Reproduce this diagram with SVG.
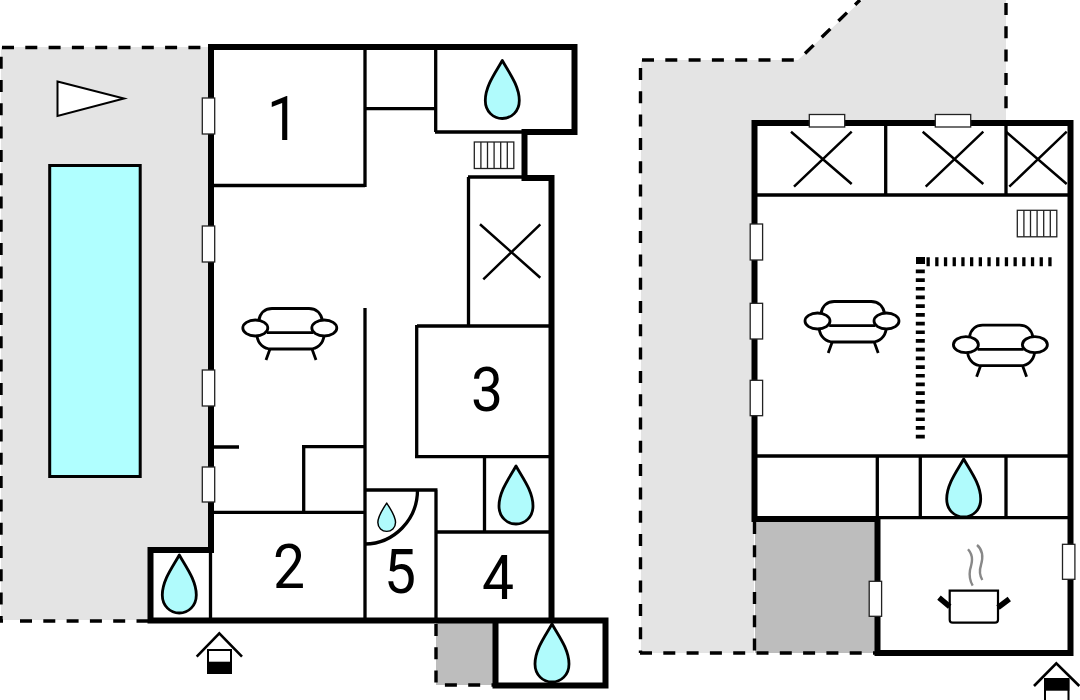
<svg xmlns="http://www.w3.org/2000/svg" width="1080" height="700" viewBox="0 0 1080 700">
<style>
.wall{fill:none;stroke:#000;stroke-width:6;stroke-linecap:square;stroke-linejoin:miter}
.thin{fill:none;stroke:#000;stroke-width:3.3}
.dash{fill:none;stroke:#000;stroke-width:3.4;stroke-dasharray:12 11.3}
.win{fill:#fff;stroke:#222;stroke-width:1.3}
.x{fill:none;stroke:#000;stroke-width:2.5}
.num{font-family:"Roboto","Liberation Sans",Arial,sans-serif;font-size:62px;fill:#000;text-anchor:middle}
.drop{fill:#b0fbfc;stroke:#000;stroke-width:2.8;stroke-linejoin:round}
.rad{fill:#fff;stroke:#222;stroke-width:1.3}
.sofa{fill:#fff;stroke:#000;stroke-width:2.8}
.ter{fill:#e4e4e4}
.cov{fill:#bdbdbd}
.steam{fill:none;stroke:#888;stroke-width:2.4}
</style>
<defs>
<path id="d" class="drop" d="M0 0C-6 11-17 25-17 40C-17 51-9 58 0 58C9 58 17 51 17 40C17 25 6 11 0 0Z"/>
<g id="sofa">
<path class="sofa" d="M258.7 321C260 312 266 308.5 272 308.5H309C315 308.5 321 312 322.5 321"/>
<path class="sofa" d="M257 336C258 344 264 349 271 349H310C317 349 323 344 324 336"/>
<path class="sofa" d="M267 332.7H313M270 349L266 360M312 349L316 360"/>
<ellipse class="sofa" cx="255.3" cy="328" rx="12.5" ry="8"/>
<ellipse class="sofa" cx="324.3" cy="328" rx="12.5" ry="8"/>
</g>
<g id="rad">
<rect class="rad" x="0" y="0" width="39.5" height="26.5"/>
<path class="rad" d="M6.6 0V26.5M13.2 0V26.5M19.8 0V26.5M26.4 0V26.5M33 0V26.5"/>
</g>
</defs>
<rect width="1080" height="700" fill="#fff"/>

<g id="terrace-left">
<rect class="ter" x="1" y="47" width="209" height="573"/>
<rect x="148" y="550" width="64" height="72" fill="#fff"/>
<path class="dash" d="M2 47.5H208"/>
<path class="dash" d="M1 56.7V621H3"/>
<path class="dash" d="M20 621H150"/>
</g>
<g id="terrace-right">
<polygon class="ter" points="641,60 798,60 862,0 1006,0 1006,123 754,123 754,653 641,653"/>
<rect class="cov" x="755" y="520" width="121" height="133"/>
<path class="dash" d="M642 60H797"/>
<path class="dash" d="M805 53.5L860 0"/>
<path class="dash" d="M1006 3V110"/>
<path class="dash" d="M640.5 68V653"/>
<path class="dash" d="M640 653H876"/>
<path class="dash" d="M754.5 522V653"/>
</g>
<g id="covered-left">
<rect class="cov" x="436" y="623" width="58" height="62"/>
<path class="dash" d="M436 624V685H494"/>
</g>

<g id="pool"><rect x="49.7" y="165.5" width="90.5" height="311" fill="#b0ffff" stroke="#000" stroke-width="3"/></g>
<g id="north"><polygon points="57.5,81.5 124,98.5 57.5,116" fill="#fff" stroke="#000" stroke-width="2"/></g>

<g id="walls-left">
<path class="thin" d="M213 185.5H365M365 47V187M365 108.7H436M435.7 47V132M435 132H525"/>
<path class="thin" d="M468.5 177V327M468 177H525M417 326H552M416.7 325V458M415 456.7H552"/>
<path class="thin" d="M365 308V620M303.7 446V513M302 446.7H365M213 512.3H365M213 447H239M210.5 550V620"/>
<path class="thin" d="M365 490H437.5M436 490V620M436 532H552M484.5 457V532"/>
<path class="thin" d="M365 544A53 54 0 0 0 417.5 490"/>
<path class="wall" d="M211 550V47H574.5V132H524.5V178H551.5V620"/>
<path class="wall" d="M211 550H150.5V620.5H605.5V685.5H495.5V620.5"/>
</g>
<g id="walls-right">
<path class="thin" d="M757 195H1068M885.7 123V195M1006 123V195M757 456H1068M877.3 456V519M920.3 456V518M1006 456V518M877 517.7H1068"/>
<path class="wall" d="M754.5 519V123H1070.5V653H877.5V519H754.5"/>
<path d="M920.3 269.5V439" fill="none" stroke="#000" stroke-width="9" stroke-dasharray="3.7 5"/>
<path d="M926.5 261.7H1053" fill="none" stroke="#000" stroke-width="9" stroke-dasharray="3.3 5.4"/>
<rect x="916" y="257" width="9" height="7"/>
</g>

<g id="windows">
<rect class="win" x="202.3" y="98" width="12.4" height="36"/>
<rect class="win" x="202.3" y="226" width="12.4" height="36"/>
<rect class="win" x="202.3" y="370" width="12.4" height="36"/>
<rect class="win" x="202.3" y="467" width="12.4" height="35"/>
<rect class="win" x="809.3" y="114.5" width="35.4" height="12.5"/>
<rect class="win" x="935.3" y="114.5" width="35.4" height="12.5"/>
<rect class="win" x="750.2" y="224" width="12.4" height="36"/>
<rect class="win" x="750.2" y="303.3" width="12.4" height="35.7"/>
<rect class="win" x="750.2" y="380.3" width="12.4" height="35.4"/>
<rect class="win" x="869.2" y="581.3" width="12.4" height="35"/>
<rect class="win" x="1062.5" y="544.3" width="12.4" height="35"/>
</g>

<g id="fans">
<path class="x" d="M480 224.3L540.3 277.7M540.3 224.3L483.3 279.3"/>
<path class="x" d="M791 131.7L851.7 184M851.7 131.7L794 186.7"/>
<path class="x" d="M922.7 131.7L983.3 184M983.3 131.7L925.7 186.7"/>
<path class="x" d="M1006 131.7L1066.7 184M1066.7 131.7L1009.3 186.7"/>
</g>

<g id="radiators">
<use href="#rad" x="474.3" y="142"/>
<use href="#rad" x="1017.3" y="210.3"/>
</g>

<g id="drops">
<use href="#d" x="502.3" y="60.5"/>
<use href="#d" x="179.3" y="555"/>
<use href="#d" x="516" y="466"/>
<use href="#d" x="552" y="624"/>
<use href="#d" x="963.7" y="459"/>
<use href="#d" transform="translate(386.7 503) scale(.52 .49)"/>
</g>

<g id="sofas">
<use href="#sofa"/>
<use href="#sofa" x="562.2" y="-7"/>
<use href="#sofa" x="710.6" y="16.7"/>
</g>

<g id="pot">
<path d="M949.7 590.7H998V619.7Q998 622.7 995 622.7H952.7Q949.7 622.7 949.7 619.7Z" fill="#fff" stroke="#000" stroke-width="2.2"/>
<path d="M939 597.7L949.7 606.7M1009.3 599L998 607.5" fill="none" stroke="#000" stroke-width="5.5"/>
<path class="steam" d="M968 549.3C974 556 972 563 970 570C969 576 970 581 972.7 585.7"/>
<path class="steam" d="M977 545C983 550 983 558 981 565C979 571 980 576 982.3 580"/>
</g>

<g id="entrance-left">
<path d="M196.7 656.7L219.3 633.3L242 656.7" fill="none" stroke="#000" stroke-width="2.6"/>
<rect x="208" y="650" width="23" height="23" fill="#fff" stroke="#000" stroke-width="2"/>
<rect x="207" y="661.7" width="25" height="12"/>
</g>
<g id="entrance-right">
<path d="M1034 686L1056.3 663.3L1079.3 686" fill="none" stroke="#000" stroke-width="2.6"/>
<rect x="1045" y="679" width="23.5" height="24" fill="#fff" stroke="#000" stroke-width="2"/>
<rect x="1044" y="679.3" width="25.3" height="11.4"/>
</g>

<g id="labels">
<text class="num" transform="translate(283 140) scale(.92 1)">1</text>
<text class="num" transform="translate(289 588) scale(.92 1)">2</text>
<text class="num" transform="translate(487 411) scale(.92 1)">3</text>
<text class="num" transform="translate(498 599) scale(.92 1)">4</text>
<text class="num" transform="translate(400 593) scale(.92 1)">5</text>
</g>
</svg>
